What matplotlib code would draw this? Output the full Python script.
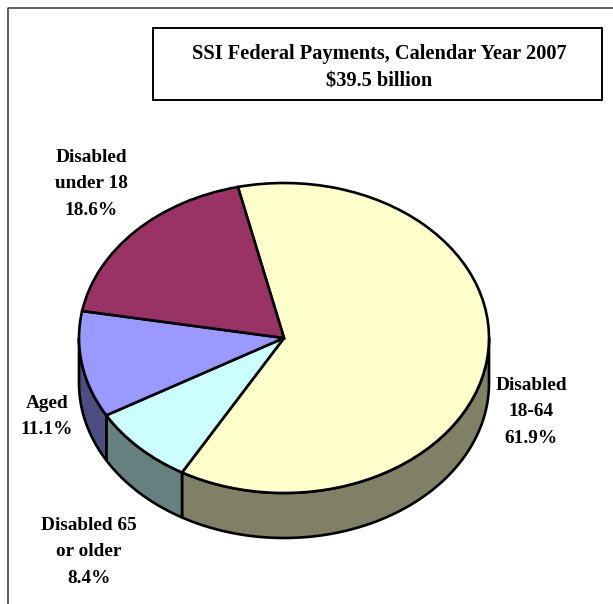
import numpy as np
import matplotlib
matplotlib.use("Agg")
import matplotlib.pyplot as plt
from matplotlib.patches import Polygon, Rectangle
from matplotlib.lines import Line2D

categories = ["Disabled\n18-64", "Disabled 65\nor older", "Aged", "Disabled\nunder 18"]
shares = [61.9, 8.4, 11.1, 18.6]
title_lines = "SSI Federal Payments, Calendar Year 2007\n$39.5 billion"

top_colors = ["#FFFFCC", "#CCFFFF", "#9999FF", "#993366"]
side_colors = ["#808066", "#668080", "#4D4D80", "#4D1A33"]
# label centres in pixels, same order as categories
label_pos = [(531, 412), (89, 552), (47, 416.5), (91, 184)]

W, H = 613, 604
CX, CY = 284, 338   # ellipse centre
RX, RY = 205, 155   # ellipse radii
DEPTH = 45 / RY     # wall height in pie units

plt.rcParams['font.family'] = ['Liberation Serif', 'DejaVu Serif']
fig = plt.figure(figsize=(W / 100, H / 100), dpi=100)
ax = fig.add_axes([0, 0, 1, 1])

wedges, _ = ax.pie(shares, colors=top_colors, startangle=103, counterclock=False,
                   center=(0, 0), radius=1,
                   wedgeprops=dict(edgecolor="black", linewidth=1.9, zorder=3))

# pie() forces equal aspect, the tilted look needs the unit circle squashed
ax.set_aspect("auto")
ax.set_xlim(-CX / RX, (W - CX) / RX)
ax.set_ylim(-(H - CY) / RY, CY / RY)
ax.set_axis_off()

# outer wall of each slice, only the part on the front half shows
for w, side in zip(wedges, side_colors):
    a1 = (w.theta1 + 360) % 360
    a2 = a1 + (w.theta2 - w.theta1)
    segments = [(max(a1, 180), min(a2, 360)), (max(a1 - 360, 180), min(a2 - 360, 360))]
    for lo, hi in segments:
        if hi <= lo:
            continue
        t = np.radians(np.linspace(lo, hi, 120))
        x, y = np.cos(t), np.sin(t)
        pts = np.column_stack([np.r_[x, x[::-1]], np.r_[y, y[::-1] - DEPTH]])
        ax.add_patch(Polygon(pts, closed=True, facecolor=side, edgecolor="black",
                             linewidth=1.9, joinstyle="round", zorder=2))

for cat, share, (px, py) in zip(categories, shares, label_pos):
    fig.text(px / W, 1 - py / H, f"{cat}\n{share}%", ha="center", va="center",
             fontsize=13.9, fontweight="bold", linespacing=1.72, color="black")

# title box
fig.add_artist(Rectangle((152.5 / W, 1 - 100.5 / H), 449 / W, 72 / H, transform=fig.transFigure,
                         facecolor="white", edgecolor="black", linewidth=1.4))
fig.text(379 / W, 1 - 68 / H, title_lines, ha="center", va="center",
         fontsize=14.7, fontweight="bold", linespacing=1.49, color="black")

# chart area border, open on the right and at the bottom
fig.add_artist(Line2D([7.5 / W, 7.5 / W, 1], [0, 1 - 7.5 / H, 1 - 7.5 / H],
                      transform=fig.transFigure, color="#333333", linewidth=1.1))

fig.savefig("out.png", dpi=100, facecolor="white")
